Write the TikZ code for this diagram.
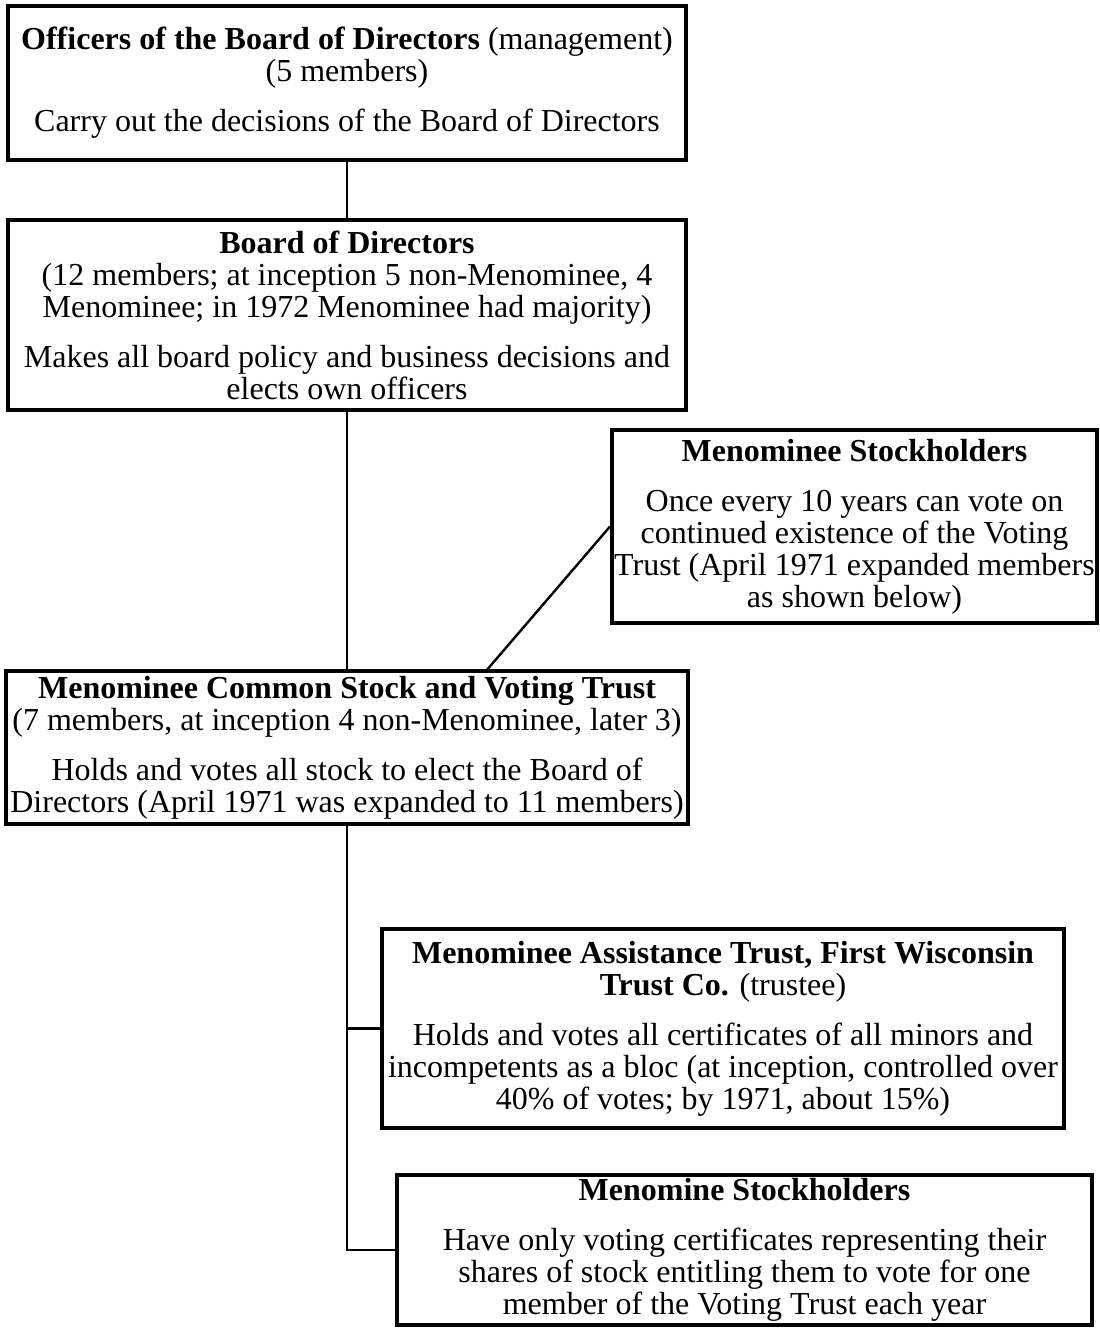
\documentclass[tikz,border=0pt]{standalone}
\usepackage{fontspec}
\setmainfont{Liberation Serif}
\begin{document}
\begin{tikzpicture}[x=0.5pt,y=-0.5pt,
  box/.style={draw,line width=2pt,align=center,inner sep=0pt,
    font=\fontsize{16pt}{16pt}\selectfont},
  conn/.style={line width=1.2pt}]
\useasboundingbox (0,0) rectangle (1099,1329);
\node[box,minimum width=339pt,minimum height=77pt] (off) at (347,83)
  {\textbf{Officers of the Board of Directors} (management)\\(5 members)\\[9pt]
   Carry out the decisions of the Board of Directors};
\node[box,minimum width=339pt,minimum height=95pt] (board) at (347,315)
  {\textbf{Board of Directors}\\(12 members; at inception 5 non-Menominee, 4\\
   Menominee; in 1972 Menominee had majority)\\[9pt]
   Makes all board policy and business decisions and\\elects own officers};
\node[box,minimum width=242.5pt,minimum height=96.5pt] (ms) at (854.5,526.5)
  {\textbf{Menominee Stockholders}\\[9pt]Once every 10 years can vote on\\
   continued existence of the Voting\\Trust (April 1971 expanded members\\as shown below)};
\node[box,minimum width=341pt,minimum height=76.5pt] (vt) at (347,747.5)
  {\textbf{Menominee Common Stock and Voting Trust}\\
   (7 members, at inception 4 non-Menominee, later 3)\\[9pt]
   Holds and votes all stock to elect the Board of\\
   Directors (April 1971 was expanded to 11 members)};
\node[box,minimum width=341pt,minimum height=99.5pt] (at) at (723,1028.5)
  {\textbf{Menominee Assistance Trust, First Wisconsin}\\\textbf{Trust Co.} (trustee)\\[9pt]
   Holds and votes all certificates of all minors and\\
   incompetents as a bloc (at inception, controlled over\\
   40\% of votes; by 1971, about 15\%)};
\node[box,minimum width=347.5pt,minimum height=75pt] (ms2) at (744.5,1250)
  {\textbf{Menomine Stockholders}\\[9pt]
   Have only voting certificates representing their\\
   shares of stock entitling them to vote for one\\
   member of the Voting Trust each year};
\coordinate (d1) at (486,671);
\coordinate (bend) at (347,1250);
\draw[conn] (off.south) -- (board.north);
\draw[conn] (board.south) -- (vt.north);
\draw[conn] (d1) -- (ms.west);
\draw[conn] (vt.south) -- (bend) -- (ms2.west);
\draw[conn] (vt.south |- at.west) -- (at.west);
\end{tikzpicture}
\end{document}
